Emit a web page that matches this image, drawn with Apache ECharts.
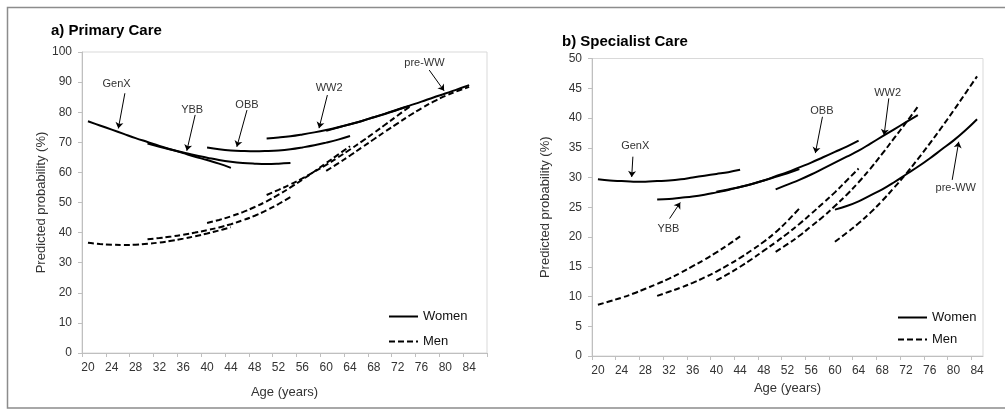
<!DOCTYPE html>
<html><head><meta charset="utf-8">
<script src="https://cdn.jsdelivr.net/npm/echarts@6/dist/echarts.min.js"></script>
<style>html,body{margin:0;padding:0;background:#fff}#c{width:1005px;height:413px}</style>
</head><body><div id="c"></div>
<script>
// Ages for each cohort (2-year steps)
const agesGenX  = [20,22,24,26,28,30,32,34,36,38,40,42,44];
const agesYBB   = [30,32,34,36,38,40,42,44,46,48,50,52,54];
const agesOBB   = [40,42,44,46,48,50,52,54,56,58,60,62,64];
const agesWW2   = [50,52,54,56,58,60,62,64,66,68,70,72,74];
const agesPreWW = [60,62,64,66,68,70,72,74,76,78,80,82,84];

// a) Primary care, predicted probability (%)
const pcWomenGenX  = [77.0,75.6,74.2,72.8,71.4,70.1,68.8,67.6,66.4,65.2,64.1,62.9,61.5];
const pcWomenYBB   = [69.6,68.5,67.5,66.6,65.7,64.9,64.1,63.5,63.1,62.9,62.8,62.9,63.1];
const pcWomenOBB   = [68.3,67.7,67.3,67.1,67.0,67.1,67.3,67.7,68.3,69.0,69.9,70.9,72.1];
const pcWomenWW2   = [71.3,71.6,72.0,72.6,73.3,74.1,75.0,76.0,77.1,78.3,79.5,80.8,82.1];
const pcWomenPreWW = [73.8,74.9,76.0,77.1,78.3,79.6,80.9,82.2,83.5,84.9,86.2,87.6,89.0];
const pcMenGenX    = [36.6,36.2,36.0,35.9,36.0,36.3,36.7,37.3,38.0,38.8,39.7,40.7,41.8];
const pcMenYBB     = [37.8,38.2,38.7,39.3,40.0,40.8,41.7,42.8,44.1,45.6,47.4,49.5,51.8];
const pcMenOBB     = [43.2,44.2,45.4,46.8,48.5,50.4,52.6,55.0,57.6,60.3,63.1,65.9,68.7];
const pcMenWW2     = [52.5,54.2,56.0,58.0,60.2,62.5,65.0,67.6,70.3,73.1,76.0,78.9,81.8];
const pcMenPreWW   = [60.5,63.0,65.6,68.3,71.0,73.7,76.3,78.9,81.3,83.5,85.4,87.0,88.4];

// b) Specialist care, predicted probability (%)
const scWomenGenX  = [29.7,29.5,29.4,29.3,29.3,29.4,29.5,29.7,30.0,30.3,30.6,30.9,31.3];
const scWomenYBB   = [26.3,26.4,26.6,26.8,27.1,27.5,27.9,28.4,28.9,29.5,30.1,30.7,31.4];
const scWomenOBB   = [27.6,28.0,28.4,28.9,29.5,30.2,30.9,31.7,32.5,33.4,34.3,35.2,36.2];
const scWomenWW2   = [28.0,28.8,29.6,30.5,31.5,32.5,33.5,34.5,35.7,36.9,38.1,39.3,40.5];
const scWomenPreWW = [24.6,25.2,26.0,27.0,28.0,29.2,30.5,31.8,33.2,34.7,36.2,37.9,39.8];
const scMenGenX    = [8.6,9.2,9.8,10.5,11.3,12.1,13.0,14.0,15.1,16.2,17.4,18.7,20.1];
const scMenYBB     = [10.1,10.8,11.5,12.3,13.2,14.2,15.3,16.5,17.8,19.2,20.8,22.7,24.8];
const scMenOBB     = [12.7,13.8,15.0,16.3,17.7,19.1,20.6,22.2,23.9,25.7,27.5,29.5,31.5];
const scMenWW2     = [17.5,18.8,20.2,21.8,23.4,25.2,27.1,29.2,31.5,34.0,36.6,39.2,41.9];
const scMenPreWW   = [19.2,20.7,22.3,24.1,26.1,28.3,30.6,33.1,35.7,38.4,41.2,44.1,47.0];

// Axis ticks / labels
const xLabels  = [20,24,28,32,36,40,44,48,52,56,60,64,68,72,76,80,84];
const pcXTicks = [19,23,27,31,35,39,43,47,51,55,59,63,67,71,75,79,83,87];
const scXTicks = [19,23,27,31,35,39,43,47,51,55,59,63,67,71,75,79,83];

// Annotations (cohort names) in data coordinates
const noteNames = ['GenX','YBB','OBB','WW2','pre-WW'];
const pcNoteText = [[24.8,89.4],[37.5,80.7],[46.7,82.4],[60.5,87.9],[76.5,96.2]];
const pcNoteFrom = [[26.2,86.3],[38.0,79.1],[46.7,80.7],[60.2,85.7],[77.3,94.0]];
const pcNoteTo   = [[25.1,74.6],[36.6,67.2],[45.0,68.5],[58.8,74.7],[79.8,87.1]];
const scNoteText = [[26.3,35.3],[31.9,21.3],[57.8,41.2],[68.9,44.2],[80.4,28.2]];
const scNoteFrom = [[25.9,33.5],[32.1,23.1],[57.9,40.2],[69.1,43.3],[79.8,29.6]];
const scNoteTo   = [[25.7,30.1],[33.9,25.8],[56.7,34.1],[68.3,37.1],[80.9,36.0]];

const FONT = '"Liberation Sans", Arial, sans-serif';
const zip = (a, b) => a.map((x, i) => [x, b[i]]);

function lineSeries(name, ages, vals, gi, dashed) {
  return {
    type: 'line', name: name, xAxisIndex: gi, yAxisIndex: gi,
    data: zip(ages, vals), symbol: 'none', smooth: 0.4,
    lineStyle: { color: '#000', width: 2, type: dashed ? [6, 3] : 'solid' },
    itemStyle: { color: '#000' }, silent: true, z: dashed ? 3 : 4
  };
}
function noteSeries(gi, texts, froms, tos) {
  return {
    type: 'line', name: 'notes' + gi, xAxisIndex: gi, yAxisIndex: gi, data: [], silent: true,
    markLine: {
      silent: true, animation: false, symbol: ['none', 'arrow'], symbolSize: 6,
      lineStyle: { color: '#000', width: 1, type: 'solid' }, label: { show: false },
      emphasis: { disabled: true },
      data: froms.map((f, i) => [{ coord: f }, { coord: tos[i] }])
    },
    markPoint: {
      silent: true, animation: false, symbol: 'rect', symbolSize: 1,
      itemStyle: { color: 'rgba(0,0,0,0)' },
      label: { show: true, position: 'inside', color: '#333', fontSize: 11, fontFamily: FONT, formatter: p => p.name },
      data: texts.map((t, i) => ({ name: noteNames[i], coord: t }))
    }
  };
}

const axisGray = '#bfbfbf';
function xAx(gi, max, ticks, nameGap) {
  return {
    type: 'value', gridIndex: gi, min: 19, max: max,
    name: 'Age (years)', nameLocation: 'middle', nameGap: nameGap,
    nameTextStyle: { fontSize: 13, color: '#333', fontFamily: FONT },
    axisLine: { show: true, lineStyle: { color: axisGray } },
    axisTick: { show: true, length: 4, lineStyle: { color: axisGray }, customValues: ticks },
    axisLabel: { customValues: xLabels, fontSize: 12, color: '#333', fontFamily: FONT, margin: 9 },
    splitLine: { show: false }
  };
}
function yAx(gi, max, interval, nameGap) {
  return {
    type: 'value', gridIndex: gi, min: 0, max: max, interval: interval,
    name: 'Predicted probability (%)', nameLocation: 'middle', nameGap: nameGap,
    nameTextStyle: { fontSize: 13, color: '#333', fontFamily: FONT },
    axisLine: { show: true, lineStyle: { color: axisGray } },
    axisTick: { show: true, length: 4, lineStyle: { color: axisGray } },
    axisLabel: { fontSize: 12, color: '#333', fontFamily: FONT, margin: 10 },
    splitLine: { show: false }
  };
}
function legend(left, top, gap) {
  return {
    left: left, top: top, orient: 'vertical', itemWidth: 29, itemHeight: 12, itemGap: gap,
    selectedMode: false,
    textStyle: { fontSize: 13, color: '#111', fontFamily: FONT },
    data: [
      { name: 'Women', icon: 'path://M0,5L29,5L29,7L0,7Z', itemStyle: { color: '#000' } },
      { name: 'Men', icon: 'path://M0,5h6v2h-6zM9,5h6v2h-6zM18,5h6v2h-6zM27,5h2v2h-2z', itemStyle: { color: '#000' } }
    ]
  };
}

const series = [
  lineSeries('Women', agesGenX, pcWomenGenX, 0, false),
  lineSeries('Women', agesYBB, pcWomenYBB, 0, false),
  lineSeries('Women', agesOBB, pcWomenOBB, 0, false),
  lineSeries('Women', agesWW2, pcWomenWW2, 0, false),
  lineSeries('Women', agesPreWW, pcWomenPreWW, 0, false),
  lineSeries('Men', agesGenX, pcMenGenX, 0, true),
  lineSeries('Men', agesYBB, pcMenYBB, 0, true),
  lineSeries('Men', agesOBB, pcMenOBB, 0, true),
  lineSeries('Men', agesWW2, pcMenWW2, 0, true),
  lineSeries('Men', agesPreWW, pcMenPreWW, 0, true),
  lineSeries('Women', agesGenX, scWomenGenX, 1, false),
  lineSeries('Women', agesYBB, scWomenYBB, 1, false),
  lineSeries('Women', agesOBB, scWomenOBB, 1, false),
  lineSeries('Women', agesWW2, scWomenWW2, 1, false),
  lineSeries('Women', agesPreWW, scWomenPreWW, 1, false),
  lineSeries('Men', agesGenX, scMenGenX, 1, true),
  lineSeries('Men', agesYBB, scMenYBB, 1, true),
  lineSeries('Men', agesOBB, scMenOBB, 1, true),
  lineSeries('Men', agesWW2, scMenWW2, 1, true),
  lineSeries('Men', agesPreWW, scMenPreWW, 1, true),
  noteSeries(0, pcNoteText, pcNoteFrom, pcNoteTo),
  noteSeries(1, scNoteText, scNoteFrom, scNoteTo)
];

const chart = echarts.init(document.getElementById('c'), null, { renderer: 'canvas' });
chart.setOption({
  animation: false,
  backgroundColor: '#fff',
  title: [
    { text: 'a) Primary Care', left: 46, top: 18, textStyle: { fontSize: 15, fontWeight: 'bold', color: '#000', fontFamily: FONT } },
    { text: 'b) Specialist Care', left: 557, top: 29, textStyle: { fontSize: 15, fontWeight: 'bold', color: '#000', fontFamily: FONT } }
  ],
  graphic: [{
    type: 'rect', silent: true, z: 0,
    shape: { x: 7.5, y: 7.5, width: 1010, height: 400.5 },
    style: { fill: 'none', stroke: '#8c8c8c', lineWidth: 1.5 }
  }],
  legend: [legend(384, 305, 12), legend(893, 306, 9)],
  grid: [
    { left: 82, top: 52, width: 405, height: 301, show: true, borderColor: '#d9d9d9', borderWidth: 1, backgroundColor: 'transparent' },
    { left: 592, top: 58.5, width: 391, height: 297.5, show: true, borderColor: '#d9d9d9', borderWidth: 1, backgroundColor: 'transparent' }
  ],
  xAxis: [xAx(0, 87, pcXTicks, 33), xAx(1, 85, scXTicks, 24)],
  yAxis: [yAx(0, 100, 10, 34), yAx(1, 50, 5, 40)],
  series: series
});
</script></body></html>
